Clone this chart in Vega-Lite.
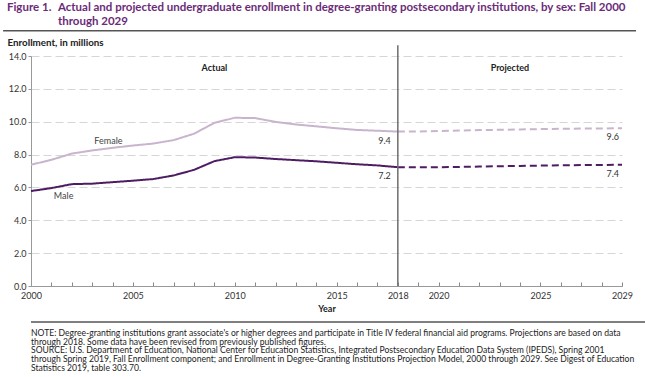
{
  "$schema": "https://vega.github.io/schema/vega-lite/v6.json",
  "padding": {"left": 2, "top": 2, "right": 6, "bottom": 1},
  "background": "white",
  "config": {"font": "Lato", "view": {"stroke": null}},
  "spacing": 8,
  "datasets": {
    "series": [
      {"year": 2000, "sex": "Female", "period": "Actual", "value": 7.38},
      {"year": 2001, "sex": "Female", "period": "Actual", "value": 7.68},
      {"year": 2002, "sex": "Female", "period": "Actual", "value": 8.06},
      {"year": 2003, "sex": "Female", "period": "Actual", "value": 8.25},
      {"year": 2004, "sex": "Female", "period": "Actual", "value": 8.41},
      {"year": 2005, "sex": "Female", "period": "Actual", "value": 8.55},
      {"year": 2006, "sex": "Female", "period": "Actual", "value": 8.67},
      {"year": 2007, "sex": "Female", "period": "Actual", "value": 8.88},
      {"year": 2008, "sex": "Female", "period": "Actual", "value": 9.27},
      {"year": 2009, "sex": "Female", "period": "Actual", "value": 9.93},
      {"year": 2010, "sex": "Female", "period": "Actual", "value": 10.24},
      {"year": 2011, "sex": "Female", "period": "Actual", "value": 10.22},
      {"year": 2012, "sex": "Female", "period": "Actual", "value": 9.99},
      {"year": 2013, "sex": "Female", "period": "Actual", "value": 9.83},
      {"year": 2014, "sex": "Female", "period": "Actual", "value": 9.72},
      {"year": 2015, "sex": "Female", "period": "Actual", "value": 9.6},
      {"year": 2016, "sex": "Female", "period": "Actual", "value": 9.5},
      {"year": 2017, "sex": "Female", "period": "Actual", "value": 9.45},
      {"year": 2018, "sex": "Female", "period": "Actual", "value": 9.4},
      {"year": 2018, "sex": "Female", "period": "Projected", "value": 9.4},
      {"year": 2019, "sex": "Female", "period": "Projected", "value": 9.41},
      {"year": 2020, "sex": "Female", "period": "Projected", "value": 9.43},
      {"year": 2021, "sex": "Female", "period": "Projected", "value": 9.46},
      {"year": 2022, "sex": "Female", "period": "Projected", "value": 9.49},
      {"year": 2023, "sex": "Female", "period": "Projected", "value": 9.51},
      {"year": 2024, "sex": "Female", "period": "Projected", "value": 9.53},
      {"year": 2025, "sex": "Female", "period": "Projected", "value": 9.55},
      {"year": 2026, "sex": "Female", "period": "Projected", "value": 9.57},
      {"year": 2027, "sex": "Female", "period": "Projected", "value": 9.58},
      {"year": 2028, "sex": "Female", "period": "Projected", "value": 9.59},
      {"year": 2029, "sex": "Female", "period": "Projected", "value": 9.6},
      {"year": 2000, "sex": "Male", "period": "Actual", "value": 5.78},
      {"year": 2001, "sex": "Male", "period": "Actual", "value": 5.96},
      {"year": 2002, "sex": "Male", "period": "Actual", "value": 6.2},
      {"year": 2003, "sex": "Male", "period": "Actual", "value": 6.23},
      {"year": 2004, "sex": "Male", "period": "Actual", "value": 6.32},
      {"year": 2005, "sex": "Male", "period": "Actual", "value": 6.41},
      {"year": 2006, "sex": "Male", "period": "Actual", "value": 6.51},
      {"year": 2007, "sex": "Male", "period": "Actual", "value": 6.73},
      {"year": 2008, "sex": "Male", "period": "Actual", "value": 7.07},
      {"year": 2009, "sex": "Male", "period": "Actual", "value": 7.6},
      {"year": 2010, "sex": "Male", "period": "Actual", "value": 7.84},
      {"year": 2011, "sex": "Male", "period": "Actual", "value": 7.82},
      {"year": 2012, "sex": "Male", "period": "Actual", "value": 7.73},
      {"year": 2013, "sex": "Male", "period": "Actual", "value": 7.66},
      {"year": 2014, "sex": "Male", "period": "Actual", "value": 7.59},
      {"year": 2015, "sex": "Male", "period": "Actual", "value": 7.5},
      {"year": 2016, "sex": "Male", "period": "Actual", "value": 7.41},
      {"year": 2017, "sex": "Male", "period": "Actual", "value": 7.34},
      {"year": 2018, "sex": "Male", "period": "Actual", "value": 7.23},
      {"year": 2018, "sex": "Male", "period": "Projected", "value": 7.23},
      {"year": 2019, "sex": "Male", "period": "Projected", "value": 7.22},
      {"year": 2020, "sex": "Male", "period": "Projected", "value": 7.23},
      {"year": 2021, "sex": "Male", "period": "Projected", "value": 7.25},
      {"year": 2022, "sex": "Male", "period": "Projected", "value": 7.27},
      {"year": 2023, "sex": "Male", "period": "Projected", "value": 7.29},
      {"year": 2024, "sex": "Male", "period": "Projected", "value": 7.31},
      {"year": 2025, "sex": "Male", "period": "Projected", "value": 7.33},
      {"year": 2026, "sex": "Male", "period": "Projected", "value": 7.35},
      {"year": 2027, "sex": "Male", "period": "Projected", "value": 7.36},
      {"year": 2028, "sex": "Male", "period": "Projected", "value": 7.37},
      {"year": 2029, "sex": "Male", "period": "Projected", "value": 7.38}
    ],
    "periods": [
      {"label": "Actual", "year": 2009, "value": 13.3},
      {"label": "Projected", "year": 2023.5, "value": 13.3}
    ],
    "names": [
      {"label": "Female", "year": 2003.8, "value": 8.85},
      {"label": "Male", "year": 2001.6, "value": 5.5}
    ],
    "notes": [
      {"line": 1, "text": "NOTE: Degree-granting institutions grant associate's or higher degrees and participate in Title IV federal financial aid programs. Projections are based on data"},
      {"line": 2, "text": "through 2018. Some data have been revised from previously published figures."},
      {"line": 3, "text": "SOURCE: U.S. Department of Education, National Center for Education Statistics, Integrated Postsecondary Education Data System (IPEDS), Spring 2001"},
      {"line": 4, "text": "through Spring 2019, Fall Enrollment component; and Enrollment in Degree-Granting Institutions Projection Model, 2000 through 2029. See Digest of Education"},
      {"line": 5, "text": "Statistics 2019, table 303.70."}
    ]
  },
  "vconcat": [
    {
      "width": 591,
      "height": 230,
      "layer": [
        {
          "data": {"name": "series"},
          "mark": {"type": "line", "strokeWidth": 2},
          "encoding": {
            "x": {
              "field": "year", "type": "quantitative",
              "scale": {"domain": [2000, 2029], "nice": false, "zero": false},
              "axis": {
                "title": "Year", "titleFontWeight": "bold", "titleFontSize": 9, "titleColor": "#222222", "titlePadding": 4,
                "values": [2000, 2001, 2002, 2003, 2004, 2005, 2006, 2007, 2008, 2009, 2010, 2011, 2012, 2013, 2014, 2015, 2016, 2017, 2018, 2019, 2020, 2021, 2022, 2023, 2024, 2025, 2026, 2027, 2028, 2029],
                "tickCount": 60,
                "format": "d",
                "labelExpr": "indexof([2000, 2005, 2010, 2015, 2018, 2020, 2025, 2029], datum.value) >= 0 ? datum.label : ''",
                "labelOverlap": false,
                "labelFontSize": 9, "labelColor": "#333333", "labelFlush": false, "labelPadding": 9,
                "domainColor": "#999999", "tickColor": "#888888", "tickWidth": 1, "tickSize": -4, "grid": false
              }
            },
            "y": {
              "field": "value", "type": "quantitative",
              "scale": {"domain": [0, 14], "nice": false},
              "axis": {
                "title": "Enrollment, in millions", "titleAngle": 0, "titleAlign": "left", "titleBaseline": "middle",
                "titleX": -24, "titleY": -14, "titleFontWeight": "bold", "titleFontSize": 9.8, "titleColor": "#222222",
                "values": [0, 2, 4, 6, 8, 10, 12, 14], "tickCount": 20, "format": ".1f", "labelOverlap": false,
                "labelFontSize": 9, "labelColor": "#333333", "labelPadding": 2,
                "tickSize": 3, "tickColor": "#999999", "domainColor": "#999999",
                "grid": true, "gridDash": [8, 4], "gridColor": "#d6d6d6"
              }
            },
            "color": {
              "field": "sex", "type": "nominal",
              "scale": {"domain": ["Female", "Male"], "range": ["#c9b4ce", "#4e1c63"]},
              "legend": null
            },
            "strokeDash": {
              "field": "period", "type": "nominal",
              "scale": {"domain": ["Actual", "Projected"], "range": [[1, 0], [7, 4]]},
              "legend": null
            }
          }
        },
        {
          "data": {"values": [{}]},
          "mark": {"type": "rule", "color": "#555555", "strokeWidth": 1.5},
          "encoding": {
            "x": {"datum": 1998.63, "type": "quantitative"},
            "x2": {"datum": 2029.69},
            "y": {"datum": 15.53, "type": "quantitative"}
          }
        },
        {
          "data": {"values": [{}]},
          "mark": {"type": "text", "text": "Figure 1.", "align": "left", "baseline": "top", "fontSize": 11.5, "fontWeight": "bold", "color": "#6b2b78"},
          "encoding": {
            "x": {"datum": 1998.82, "type": "quantitative"},
            "y": {"datum": 17.27, "type": "quantitative"}
          }
        },
        {
          "data": {"values": [{}]},
          "mark": {"type": "text", "text": ["Actual and projected undergraduate enrollment in degree-granting postsecondary institutions, by sex: Fall 2000", "through 2029"], "lineHeight": 13.5, "align": "left", "baseline": "top", "fontSize": 11.5, "fontWeight": "bold", "color": "#6b2b78"},
          "encoding": {
            "x": {"datum": 2001.32, "type": "quantitative"},
            "y": {"datum": 17.27, "type": "quantitative"}
          }
        },
        {
          "data": {"values": [{}]},
          "mark": {"type": "rule", "color": "#6e6e6e", "strokeWidth": 1.5},
          "encoding": {
            "x": {"datum": 2018, "type": "quantitative"},
            "y": {"datum": 0, "type": "quantitative"},
            "y2": {"datum": 14.66}
          }
        },
        {
          "data": {"name": "periods"},
          "mark": {"type": "text", "fontSize": 9, "fontWeight": "bold", "color": "#222222"},
          "encoding": {
            "x": {"field": "year", "type": "quantitative"},
            "y": {"field": "value", "type": "quantitative"},
            "text": {"field": "label"}
          }
        },
        {
          "data": {"name": "names"},
          "mark": {"type": "text", "fontSize": 9, "color": "#444444"},
          "encoding": {
            "x": {"field": "year", "type": "quantitative"},
            "y": {"field": "value", "type": "quantitative"},
            "text": {"field": "label"}
          }
        },
        {
          "data": {"name": "series"},
          "transform": [{"filter": "datum.year == 2018 && datum.period == 'Actual'"}],
          "mark": {"type": "text", "fontSize": 9, "color": "#333333", "align": "right", "dx": -7, "dy": 9},
          "encoding": {
            "x": {"field": "year", "type": "quantitative"},
            "y": {"field": "value", "type": "quantitative"},
            "text": {"field": "value", "format": ".1f"}
          }
        },
        {
          "data": {"name": "series"},
          "transform": [{"filter": "datum.year == 2029"}],
          "mark": {"type": "text", "fontSize": 9, "color": "#333333", "align": "right", "dx": -3, "dy": 9},
          "encoding": {
            "x": {"field": "year", "type": "quantitative"},
            "y": {"field": "value", "type": "quantitative"},
            "text": {"field": "value", "format": ".1f"}
          }
        }
      ]
    },
    {
      "width": 630,
      "height": 48,
      "layer": [
        {
          "data": {"values": [{}]},
          "mark": {"type": "rule", "color": "#555555", "strokeWidth": 1.5},
          "encoding": {"x": {"value": 0}, "x2": {"value": 633}, "y": {"value": 0}}
        },
        {
          "data": {"name": "notes"},
          "mark": {"type": "text", "align": "left", "baseline": "middle", "fontSize": 8.6, "color": "#222222"},
          "encoding": {
            "x": {"value": 0},
            "y": {"field": "line", "type": "quantitative", "scale": {"domain": [-0.2, 5.2], "reverse": true}, "axis": null},
            "text": {"field": "text"}
          }
        }
      ]
    }
  ]
}
